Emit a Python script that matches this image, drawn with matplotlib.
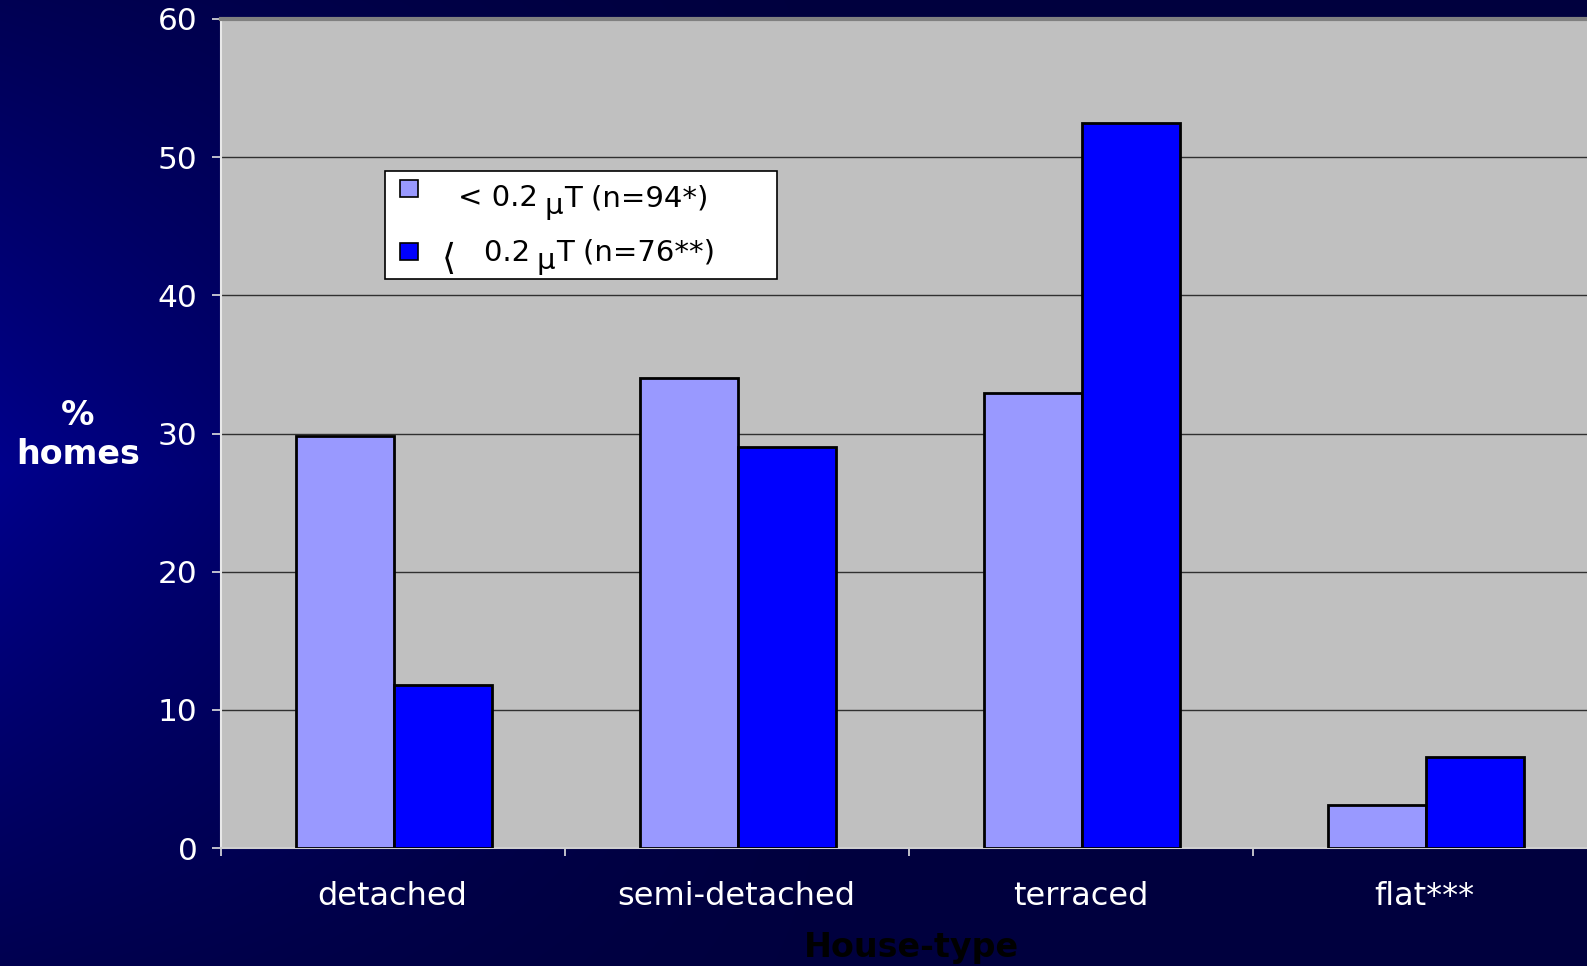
import numpy as np
import matplotlib
matplotlib.use("Agg")
import matplotlib.pyplot as plt
from matplotlib.patches import Rectangle

# Share of homes by house type, split by measured field
categories = ["detached", "semi-detached", "terraced", "flat***"]
below_02 = [29.8, 34.0, 32.9, 3.1]   # < 0.2 uT (n=94*)
above_02 = [11.8, 29.0, 52.5, 6.6]   # >= 0.2 uT (n=76**)
yticks = [0, 10, 20, 30, 40, 50, 60]

W, H, DPI = 1587, 966, 100
fig = plt.figure(figsize=(W / DPI, H / DPI), dpi=DPI)
plt.rcParams["font.family"] = ["DejaVu Sans"]

# Navy backdrop, brighter towards the middle of the left edge
bg = fig.add_axes([0, 0, 1, 1], zorder=-10)
yy, xx = np.mgrid[0:H, 0:W]
fx = np.clip(1 - xx / 900.0, 0, 1) ** 1.5
fy = np.clip(1 - np.abs(yy - 470) / 650.0, 0, 1)
blue = (62 + 78 * fx * fy) / 255.0
img = np.dstack([np.zeros_like(blue), np.zeros_like(blue), blue])
bg.imshow(img, aspect="auto", extent=[0, 1, 0, 1], origin="upper")
bg.axis("off")

ax = fig.add_axes([220.6 / W, 1 - 848 / H, 1376 / W, (848 - 19) / H])
ax.set_facecolor("#c0c0c0")

x = np.arange(len(categories))
bw = 0.285
ax.bar(x + 0.005 - bw / 2, below_02, width=bw, color="#9999ff",
       edgecolor="black", linewidth=2, zorder=3)
ax.bar(x + 0.005 + bw / 2, above_02, width=bw, color="#0000ff",
       edgecolor="black", linewidth=2, zorder=3)

ax.set_xlim(-0.5, len(categories) - 0.5)
ax.set_ylim(0, 60)
ax.set_yticks(yticks)
ax.yaxis.grid(True, color="#303030", linewidth=1)
ax.set_axisbelow(True)

ax.set_xticks(x)
ax.set_xticklabels(categories, fontsize=23, color="white")
ax.set_xticks(np.arange(-0.5, len(categories), 1.0), minor=True)
ax.tick_params(axis="x", which="major", length=0, pad=24)
ax.tick_params(axis="x", which="minor", length=6, color="#e0e0e0", width=1.2)
ax.tick_params(axis="y", length=6.5, color="#e0e0e0", width=1.2,
               labelsize=22.5, labelcolor="white", pad=10)

ax.spines["top"].set_color("#808080")
ax.spines["top"].set_linewidth(3)
ax.spines["left"].set_color("#e8e8e8")
ax.spines["left"].set_linewidth(1.5)
ax.spines["bottom"].set_color("#d0d0d0")
ax.spines["bottom"].set_linewidth(1.5)
ax.spines["right"].set_visible(False)

# Axis titles
fig.text(78 / W, 1 - 435 / H, "%\nhomes", color="white", fontsize=24,
         fontweight="bold", ha="center", va="center", linespacing=1.25)
fig.text(911 / W, 1 - 948 / H, "House-type", color="black", fontsize=24,
         fontweight="bold", ha="center", va="center")

# Legend box
lx0, ly0, lx1, ly1 = 385, 171, 777, 279
fig.patches.append(Rectangle((lx0 / W, 1 - ly1 / H), (lx1 - lx0) / W,
                             (ly1 - ly0) / H, transform=fig.transFigure,
                             facecolor="white", edgecolor="black",
                             linewidth=1.2, zorder=20))
for (my, col) in [(188, "#9999ff"), (251, "#0000ff")]:
    fig.patches.append(Rectangle((400 / W, 1 - (my + 9) / H), 18 / W, 17 / H,
                                 transform=fig.transFigure, facecolor=col,
                                 edgecolor="black", linewidth=1.2, zorder=21))

def legend_line(xstart, ycen, prefix, suffix):
    t = fig.text(xstart / W, 1 - ycen / H, prefix, fontsize=21, color="black",
                 ha="left", va="center", zorder=22)
    fig.canvas.draw()
    bb = t.get_window_extent()
    m = fig.text((bb.x1 - 3) / W, 1 - (ycen + 8) / H, "\u03bc", fontsize=21,
                 color="black", ha="left", va="center", zorder=22)
    bb2 = m.get_window_extent()
    fig.text((bb2.x1 + 1) / W, 1 - ycen / H, suffix, fontsize=21,
             color="black", ha="left", va="center", zorder=22)

legend_line(458, 198, "< 0.2 ", "T (n=94*)")
fig.text(442 / W, 1 - 259 / H, "\u27e8", fontsize=26, color="black",
         ha="left", va="center", zorder=22)
legend_line(484, 253, "0.2 ", "T (n=76**)")

fig.savefig("out.png", dpi=DPI)
